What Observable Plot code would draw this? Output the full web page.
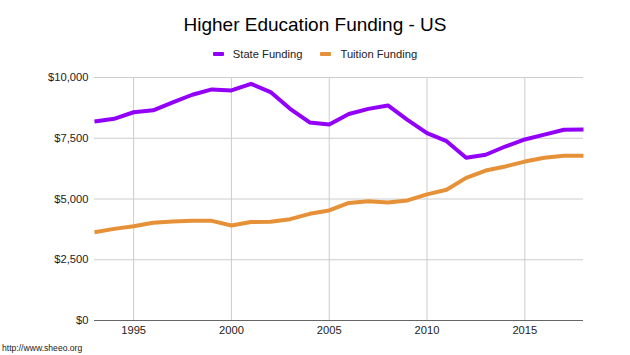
<!DOCTYPE html>
<html>
<head>
<meta charset="utf-8">
<script src="https://cdn.jsdelivr.net/npm/d3@7"></script>
<script src="https://cdn.jsdelivr.net/npm/@observablehq/plot@0.6"></script>
<style>
  html, body { margin: 0; padding: 0; background: #fff; }
  body { width: 630px; height: 355px; overflow: hidden; font-family: "Liberation Sans", Arial, sans-serif; }
  #wrap { position: relative; width: 630px; height: 355px; }
  #chart { position: absolute; left: 0; top: 0; }
  #title { position: absolute; left: 0; width: 630px; top: 13px; text-align: center; font-size: 19px; color: #000; line-height: 24px; }
  #legend { position: absolute; left: 0; width: 630px; top: 46px; display: flex; justify-content: center; font-size: 11.2px; color: #222; line-height: 16px; }
  .item { display: flex; align-items: center; margin: 0 9px; }
  .sw { width: 11px; height: 4px; border-radius: 1px; margin-right: 9px; }
  #caption { position: absolute; left: 2px; top: 342px; font-size: 8.6px; color: #222; line-height: 12px; }
</style>
</head>
<body>
<div id="wrap">
  <div id="chart"></div>
  <div id="title"></div>
  <div id="legend"></div>
  <div id="caption"></div>
</div>
<script>
const titleText = "Higher Education Funding - US";
const captionText = "http://www.sheeo.org";
const seriesNames = ["State Funding", "Tuition Funding"];
const seriesColors = ["#9200fa", "#e69138"];
const years = [1993,1994,1995,1996,1997,1998,1999,2000,2001,2002,2003,2004,2005,2006,2007,2008,2009,2010,2011,2012,2013,2014,2015,2016,2017,2018];
const stateFunding = [8190,8300,8570,8650,8980,9290,9510,9470,9740,9400,8710,8150,8070,8500,8710,8850,8260,7710,7380,6700,6820,7160,7450,7650,7850,7860];
const tuitionFunding = [3630,3770,3880,4020,4070,4100,4100,3910,4050,4060,4170,4390,4530,4840,4910,4860,4940,5190,5380,5870,6170,6340,6540,6700,6780,6780];
const xTicks = [1995,2000,2005,2010,2015];
const yTicks = [0,2500,5000,7500,10000];

const rows = [];
years.forEach((y, i) => {
  rows.push({year: y, value: stateFunding[i], series: seriesNames[0]});
  rows.push({year: y, value: tuitionFunding[i], series: seriesNames[1]});
});

document.getElementById("title").textContent = titleText;
document.getElementById("caption").textContent = captionText;
const leg = document.getElementById("legend");
seriesNames.forEach((n, i) => {
  const it = document.createElement("div"); it.className = "item";
  const sw = document.createElement("div"); sw.className = "sw"; sw.style.background = seriesColors[i];
  const tx = document.createElement("span"); tx.textContent = n;
  it.appendChild(sw); it.appendChild(tx); leg.appendChild(it);
});

const fmt = d3.format(",");
const chart = Plot.plot({
  width: 630,
  height: 355,
  marginTop: 77,
  marginBottom: 35,
  marginLeft: 94,
  marginRight: 47,
  style: { fontFamily: "Liberation Sans, Arial, sans-serif", fontSize: "11.2px", color: "#222", background: "transparent" },
  x: { domain: [1993, 2018], ticks: xTicks, tickFormat: d => String(d), tickSize: 0, tickPadding: 6, label: null },
  y: { domain: [0, 10000], ticks: yTicks, tickFormat: d => "$" + fmt(d), tickSize: 0, tickPadding: 6, label: null },
  color: { domain: seriesNames, range: seriesColors },
  marks: [
    Plot.gridX(xTicks, { stroke: "#cccccc", strokeOpacity: 1, strokeWidth: 1 }),
    Plot.gridY(yTicks.filter(d => d > 0), { stroke: "#cccccc", strokeOpacity: 1, strokeWidth: 1 }),
    Plot.ruleY([0], { stroke: "#666", strokeWidth: 1.2 }),
    Plot.lineY(rows, { x: "year", y: "value", stroke: "series", z: "series", strokeWidth: 4, strokeLinejoin: "round", strokeLinecap: "butt" }),
    Plot.axisX({ ticks: xTicks, tickFormat: d => String(d), tickSize: 0, tickPadding: 6, fill: "#222" }),
    Plot.axisY({ ticks: yTicks, tickFormat: d => "$" + fmt(d), tickSize: 0, tickPadding: 6, fill: "#222" })
  ]
});
document.getElementById("chart").appendChild(chart);
</script>
</body>
</html>
